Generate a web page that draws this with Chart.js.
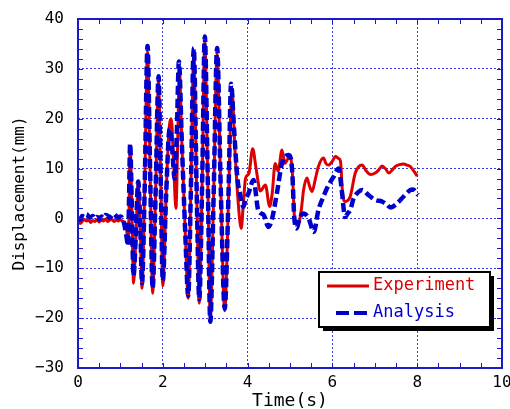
<!DOCTYPE html>
<html>
<head>
<meta charset="utf-8">
<script src="https://cdn.jsdelivr.net/npm/chart.js@4.4.1/dist/chart.umd.min.js"></script>
<style>
html, body { margin: 0; padding: 0; background: #fff; }
</style>
</head>
<body>
<canvas id="myChart1" width="510" height="409"></canvas>
<script>
// displacement time history, experiment vs analysis

const expTime = [0.00,0.05,0.10,0.15,0.20,0.25,0.30,0.35,0.40,0.45,0.50,0.55,0.60,0.65,0.70,0.75,0.80,0.85,0.90,0.95,
  1.00,1.05,1.10,1.15,1.18,1.20,1.23,1.27,1.31,1.36,1.42,1.47,1.51,1.57,1.64,1.70,1.76,1.83,1.90,1.95,
  2.00,2.08,2.14,2.20,2.26,2.31,2.35,2.39,2.45,2.53,2.60,2.66,2.73,2.80,2.86,2.93,2.99,3.06,3.12,3.20,
  3.28,3.37,3.46,3.55,3.63,3.70,3.78,3.85,3.90,3.95,4.03,4.12,4.20,4.30,4.42,4.52,4.58,4.65,4.72,4.81,
  4.88,4.93,5.00,5.05,5.12,5.20,5.27,5.32,5.40,5.46,5.52,5.60,5.67,5.79,5.85,5.91,6.00,6.07,6.15,6.19,
  6.24,6.30,6.42,6.54,6.70,6.80,6.90,7.01,7.10,7.17,7.25,7.33,7.40,7.48,7.58,7.68,7.76,7.84,7.92,8.00];
const expDisp = [-0.5,-1.0,-0.6,-0.2,-0.5,-0.3,-0.8,-0.4,-0.6,-0.2,-0.7,-0.3,-0.5,-0.1,-0.6,-0.3,-0.2,-0.6,-0.3,-0.5,
  -0.2,-0.6,-0.8,-2.5,-5.0,0.0,14.5,2.0,-13.0,-5.0,7.0,-2.0,-14.0,5.0,33.5,10.0,-15.0,5.0,27.5,8.0,
  -13.5,5.0,17.0,20.0,10.0,2.0,15.0,30.0,15.0,-3.0,-16.0,5.0,33.0,5.0,-17.0,8.0,35.5,8.0,-20.0,5.0,
  33.0,5.0,-18.5,4.0,26.0,14.0,3.0,-2.0,3.0,8.0,9.0,14.0,10.0,5.5,6.7,2.4,5.0,11.0,9.5,13.7,
  11.0,11.7,12.5,10.0,-1.0,-1.0,2.0,5.7,8.1,6.5,5.4,8.0,10.4,12.1,11.0,10.7,11.5,12.4,12.0,11.5,
  5.0,3.4,4.4,9.1,10.7,9.5,8.8,9.1,9.8,10.5,10.0,9.1,9.6,10.4,10.8,10.9,10.7,10.4,9.5,8.5];

const anaTime = [0.00,0.05,0.10,0.15,0.20,0.25,0.30,0.35,0.40,0.45,0.50,0.55,0.60,0.65,0.70,0.75,0.80,0.85,0.90,0.95,
  1.00,1.05,1.10,1.15,1.18,1.20,1.23,1.27,1.31,1.36,1.42,1.47,1.51,1.57,1.64,1.70,1.76,1.83,1.90,1.95,
  2.00,2.08,2.16,2.22,2.28,2.33,2.38,2.45,2.53,2.60,2.66,2.73,2.80,2.86,2.93,2.99,3.06,3.12,3.20,3.28,
  3.37,3.46,3.55,3.61,3.68,3.76,3.82,3.90,3.96,4.02,4.14,4.25,4.38,4.49,4.57,4.69,4.81,4.97,5.05,5.10,
  5.15,5.24,5.32,5.44,5.56,5.67,5.79,5.87,6.03,6.15,6.22,6.30,6.36,6.42,6.50,6.60,6.70,6.85,7.01,7.17,
  7.28,7.37,7.52,7.68,7.84,7.90,8.02];
const anaDisp = [0.0,-0.3,0.5,0.3,0.8,0.4,0.2,0.5,0.0,0.3,-0.2,0.4,0.1,0.7,0.5,0.1,0.6,0.9,0.5,0.2,
  0.4,0.0,-1.5,-4.0,-5.5,2.0,15.0,2.0,-11.5,-4.0,7.4,-2.0,-13.0,5.0,34.6,10.0,-14.0,5.0,28.5,8.0,
  -12.5,5.0,18.0,14.0,8.0,17.0,31.5,15.0,-3.0,-15.5,5.0,34.2,5.0,-16.2,8.0,36.5,8.0,-20.7,5.0,34.2,
  5.0,-18.1,5.0,27.0,18.0,8.0,5.0,2.3,4.0,5.0,7.7,1.7,0.7,-1.7,-0.3,5.0,11.0,12.7,9.7,0.3,
  -2.0,0.3,1.0,0.0,-2.7,1.7,4.4,6.0,8.4,10.0,5.7,0.3,1.0,1.7,4.0,5.2,5.7,4.7,3.7,3.4,
  2.8,2.2,3.0,4.4,5.7,5.8,4.7];

const xTicks = [0, 2, 4, 6, 8, 10];
const yTicks = [-30, -20, -10, 0, 10, 20, 30, 40];
const seriesNames = ['Experiment', 'Analysis'];

const FONT = '"DejaVu Sans Mono", "Liberation Mono", monospace';
const frameBlue = '#1a1ac8';

const toXY = (ts, vs) => ts.map((t, i) => ({x: t, y: vs[i]}));

// frame, inward minor ticks and the boxed legend
const framePlugin = {
  id: 'framePlugin',
  afterDraw(chart) {
    const c = chart.ctx;
    const a = chart.chartArea;
    const sx = chart.scales.x, sy = chart.scales.y;
    c.save();
    c.strokeStyle = frameBlue;
    c.lineWidth = 1;
    for (let v = 0.5; v < 10; v += 0.5) {
      const p = Math.round(sx.getPixelForValue(v)) + 0.5;
      c.beginPath();
      c.moveTo(p, a.bottom); c.lineTo(p, a.bottom - 5);
      c.moveTo(p, a.top); c.lineTo(p, a.top + 5);
      c.stroke();
    }
    for (let v = -28; v < 40; v += 2) {
      const p = Math.round(sy.getPixelForValue(v)) + 0.5;
      c.beginPath();
      c.moveTo(a.left, p); c.lineTo(a.left + 5, p);
      c.moveTo(a.right, p); c.lineTo(a.right - 5, p);
      c.stroke();
    }
    c.lineWidth = 2;
    c.strokeRect(a.left, a.top, a.right - a.left, a.bottom - a.top);

    // legend box with shadow
    const bx = 319, by = 272, bw = 171, bh = 55;
    c.fillStyle = '#000';
    c.fillRect(bx + 4, by + 4, bw, bh);
    c.fillStyle = '#fff';
    c.fillRect(bx, by, bw, bh);
    c.lineWidth = 2;
    c.strokeStyle = '#000';
    c.strokeRect(bx, by, bw, bh);

    c.lineWidth = 3;
    c.strokeStyle = '#dd0000';
    c.beginPath(); c.moveTo(327, 286); c.lineTo(369, 286); c.stroke();
    c.lineWidth = 4;
    c.strokeStyle = '#0000cc';
    c.setLineDash([13, 5]);
    c.beginPath(); c.moveTo(336, 313); c.lineTo(369, 313); c.stroke();
    c.setLineDash([]);

    c.font = '17px ' + FONT;
    c.textBaseline = 'middle';
    c.textAlign = 'left';
    c.fillStyle = '#dd0000';
    c.fillText(seriesNames[0], 373, 286);
    c.fillStyle = '#0000cc';
    c.fillText(seriesNames[1], 373, 313);
    c.restore();
  }
};

const ctx = document.getElementById('myChart1');
const myChart1 = new Chart(ctx, {
  type: 'line',
  data: {
    datasets: [{
      label: seriesNames[0],
      data: toXY(expTime, expDisp),
      borderColor: '#dd0000',
      borderWidth: 3,
      pointRadius: 0,
      cubicInterpolationMode: 'monotone',
      order: 2
    }, {
      label: seriesNames[1],
      data: toXY(anaTime, anaDisp),
      borderColor: '#0000cc',
      borderWidth: 4.5,
      borderDash: [9, 4],
      pointRadius: 0,
      cubicInterpolationMode: 'monotone',
      order: 1
    }]
  },
  options: {
    responsive: false,
    animation: false,
    devicePixelRatio: 1,
    layout: { padding: { left: 0, right: 8, top: 19, bottom: 0 } },
    plugins: { legend: { display: false }, tooltip: { enabled: false } },
    scales: {
      x: {
        type: 'linear',
        min: 0, max: 10,
        afterBuildTicks: (s) => { s.ticks = xTicks.map(v => ({value: v})); },
        afterFit: (s) => { s.height = 41; s.paddingLeft = 0; s.paddingRight = 0; },
        grid: { color: '#3c3ce0', lineWidth: 1, drawTicks: false },
        border: { display: false, dash: [2, 2] },
        ticks: { color: '#000', padding: 5, maxRotation: 0, font: { family: FONT, size: 16 } },
        title: { display: true, text: 'Time(s)', color: '#000', padding: { top: 0, bottom: -3 },
                 font: { family: FONT, size: 18 } }
      },
      y: {
        type: 'linear',
        min: -30, max: 40,
        afterBuildTicks: (s) => { s.ticks = yTicks.map(v => ({value: v})); },
        afterFit: (s) => { s.width = 78; s.paddingTop = 0; s.paddingBottom = 0; },
        grid: { color: '#3c3ce0', lineWidth: 1, drawTicks: false },
        border: { display: false, dash: [2, 2] },
        ticks: {
          color: '#000', padding: 14, font: { family: FONT, size: 16 },
          callback: (v) => v < 0 ? '\u2212' + Math.abs(v) : String(v)
        },
        title: { display: true, text: 'Displacement(mm)', color: '#000', padding: { top: 10, bottom: 0 },
                 font: { family: FONT, size: 16 } }
      }
    }
  },
  plugins: [framePlugin]
});
</script>
</body>
</html>
